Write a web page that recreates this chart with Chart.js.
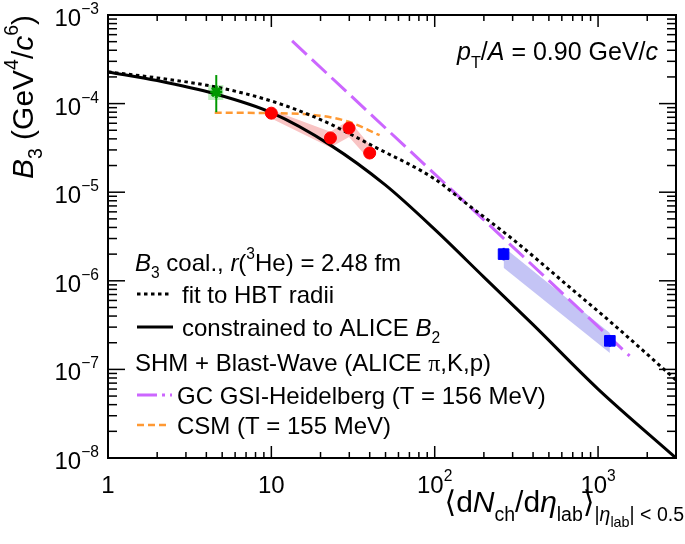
<!DOCTYPE html>
<html>
<head>
<meta charset="utf-8">
<script src="https://cdn.jsdelivr.net/npm/chart.js@4.4.0/dist/chart.umd.min.js"></script>
<style>body{margin:0;background:#fff}canvas{display:block}</style>
</head>
<body>
<canvas id="myChart" width="685" height="544"></canvas>
<script>
"use strict";
// coalescence curves
const solidX = [1, 2, 4.5, 10, 23, 50, 100, 200, 400, 1000, 3000];
const solidY = [2.28e-4, 1.82e-4, 1.29e-4, 7.9e-5, 3.4e-5, 1.2e-5, 3.8e-6, 1.1e-6, 3.2e-7, 6.0e-8, 1.0e-8];
const dotX = [1, 2, 4.5, 10, 20, 43.5, 100, 150, 300, 700, 1200, 3000];
const dotY = [2.28e-4, 1.95e-4, 1.55e-4, 1.07e-4, 6.6e-5, 3.2e-5, 1.41e-5, 7.9e-6, 2.95e-6, 7.9e-7, 3.4e-7, 7.6e-8];
// SHM curves
const gsiX = [13.4, 1560];
const gsiY = [5.1e-4, 1.42e-7];
const csmX = [4.5, 10, 20, 30, 46];
const csmY = [7.9e-5, 7.8e-5, 7.3e-5, 6.2e-5, 4.4e-5];
// data points
const redX = [10, 23, 29.9, 40];
const redY = [7.8e-5, 4.1e-5, 5.3e-5, 2.77e-5];
const redLo = [6.9e-5, 3.6e-5, 4.7e-5, 2.45e-5];
const redHi = [8.8e-5, 4.7e-5, 6.0e-5, 3.15e-5];
const redSysLo = [6.8e-5, 3.2e-5, 4.2e-5, 2.3e-5];
const redSysHi = [8.5e-5, 4.8e-5, 6.5e-5, 3.4e-5];
const blueX = [264, 1181];
const blueY = [2.0e-6, 2.1e-7];
const blueLo = [1.7e-6, 1.8e-7];
const blueHi = [2.35e-6, 2.45e-7];
const blueSysLo = [1.40e-6, 1.53e-7];
const blueSysHi = [2.41e-6, 2.58e-7];
const greenX = [4.6];
const greenY = [1.35e-4];
const greenLo = [8.0e-5];
const greenHi = [2.1e-4];
const greenSysX = [4.1, 5.1];
const greenSysLo = [1.1e-4, 1.1e-4];
const greenSysHi = [1.62e-4, 1.62e-4];
// axes
const xTickVals = [1, 10, 100, 1000];
const xTickText = ["1", "10", "10^2", "10^3"];
const yTickVals = [1e-8, 1e-7, 1e-6, 1e-5, 1e-4, 1e-3];
const yTickText = ["10^-8", "10^-7", "10^-6", "10^-5", "10^-4", "10^-3"];

const FONT = '"Liberation Sans", "DejaVu Sans", sans-serif';
const LEVEL = {"0": [1, 0], "1": [0.65, -0.5], "-1": [0.65, 0.3], "-2": [0.48, 0.5]};

function pts(xs, ys) {
    return xs.map((x, i) => ({x: x, y: ys[i]}));
}

function segFont(size, seg) {
    return (seg.i ? "italic " : "") + size + "px " + (seg.f || FONT);
}

function richWidth(ctx, segs, size) {
    let w = 0;
    for (const s of segs) {
        ctx.font = segFont(size * LEVEL[s.l || 0][0], s);
        w += ctx.measureText(s.t).width;
    }
    return w;
}

function drawRich(ctx, x, y, segs, size, align) {
    const w = richWidth(ctx, segs, size);
    let cx = align === "right" ? x - w : align === "center" ? x - w / 2 : x;
    ctx.textAlign = "left";
    ctx.textBaseline = "alphabetic";
    for (const s of segs) {
        const lv = LEVEL[s.l || 0];
        ctx.font = segFont(size * lv[0], s);
        ctx.fillText(s.t, cx, y + lv[1] * size);
        cx += ctx.measureText(s.t).width;
    }
}

function powerSegs(txt) {
    const p = txt.split("^");
    const segs = [{t: p[0]}];
    if (p[1]) segs.push({t: p[1].replace("-", "\u2212"), l: 1});
    return segs;
}

function line(ctx, x1, y1, x2, y2) {
    ctx.beginPath();
    ctx.moveTo(x1, y1);
    ctx.lineTo(x2, y2);
    ctx.stroke();
}

function errorBars(chart, xs, lo, hi, color) {
    const ctx = chart.ctx;
    const sx = chart.scales.x, sy = chart.scales.y;
    ctx.save();
    ctx.strokeStyle = color;
    ctx.lineWidth = 2;
    xs.forEach((x, i) => {
        const px = sx.getPixelForValue(x);
        line(ctx, px, sy.getPixelForValue(lo[i]), px, sy.getPixelForValue(hi[i]));
    });
    ctx.restore();
}

const framePlugin = {
    id: "frame",
    beforeDraw(chart) {
        const ctx = chart.ctx;
        ctx.save();
        ctx.fillStyle = "#fff";
        ctx.fillRect(0, 0, chart.width, chart.height);
        ctx.restore();
    },
    afterDatasetsDraw(chart) {
        errorBars(chart, redX, redLo, redHi, "#ff0000");
        errorBars(chart, blueX, blueLo, blueHi, "#0000ff");
        errorBars(chart, greenX, greenLo, greenHi, "#009900");
    },
    afterDraw(chart) {
        const ctx = chart.ctx;
        const a = chart.chartArea;
        const sx = chart.scales.x, sy = chart.scales.y;
        ctx.save();
        ctx.strokeStyle = "#000";
        ctx.fillStyle = "#000";
        ctx.lineWidth = 1.5;
        // x ticks, bottom and top
        for (let e = 0; e <= 3; e++) {
            for (let k = 1; k <= 9; k++) {
                const v = k * Math.pow(10, e);
                if (v > sx.max) continue;
                const px = sx.getPixelForValue(v);
                const len = k === 1 ? 12 : 6;
                line(ctx, px, a.bottom, px, a.bottom - len);
                line(ctx, px, a.top, px, a.top + len);
            }
        }
        // y ticks, left and right
        for (let e = -8; e <= -3; e++) {
            for (let k = 1; k <= 9; k++) {
                const v = k * Math.pow(10, e);
                if (v > sy.max * 1.0001) continue;
                const py = sy.getPixelForValue(v);
                const len = k === 1 ? 17 : 9;
                line(ctx, a.left, py, a.left + len, py);
                line(ctx, a.right, py, a.right - len, py);
            }
        }
        ctx.lineWidth = 2;
        ctx.strokeRect(a.left, a.top, a.right - a.left, a.bottom - a.top);

        // tick labels
        xTickVals.forEach((v, i) => {
            drawRich(ctx, sx.getPixelForValue(v), 493, powerSegs(xTickText[i]), 24, "center");
        });
        yTickVals.forEach((v, i) => {
            drawRich(ctx, 99, sy.getPixelForValue(v) + 11, powerSegs(yTickText[i]), 24, "right");
        });

        // axis titles
        drawRich(ctx, 684, 512, [
            {t: "\u27e8d"}, {t: "N", i: true}, {t: "ch", l: -1}, {t: "/d"},
            {t: "\u03b7", i: true}, {t: "lab", l: -1}, {t: "\u27e9"},
            {t: "|", l: -1}, {t: "\u03b7", i: true, l: -1}, {t: "lab", l: -2}, {t: "| < 0.5", l: -1}
        ], 30, "right");
        ctx.save();
        ctx.translate(33, 97);
        ctx.rotate(-Math.PI / 2);
        drawRich(ctx, 0, 0, [
            {t: "B", i: true}, {t: "3", l: -1}, {t: " (GeV"}, {t: "4", l: 1},
            {t: "/"}, {t: "c", i: true}, {t: "6", l: 1}, {t: ")"}
        ], 30, "center");
        ctx.restore();

        // annotation
        drawRich(ctx, 658, 60, [
            {t: "p", i: true}, {t: "T", l: -1}, {t: "/"}, {t: "A", i: true},
            {t: " = 0.90 GeV/"}, {t: "c", i: true}
        ], 25, "right");

        // legend
        drawRich(ctx, 135, 271, [
            {t: "B", i: true}, {t: "3", l: -1}, {t: " coal., "}, {t: "r", i: true},
            {t: "("}, {t: "3", l: 1}, {t: "He) = 2.48 fm"}
        ], 24, "left");
        ctx.lineWidth = 3;
        ctx.setLineDash([3.5, 3.5]);
        line(ctx, 137, 294, 170, 294);
        ctx.setLineDash([]);
        line(ctx, 137, 327, 173, 327);
        drawRich(ctx, 182, 303, [{t: "fit to HBT radii"}], 24, "left");
        drawRich(ctx, 182, 336, [
            {t: "constrained to ALICE "}, {t: "B", i: true}, {t: "2", l: -1}
        ], 24, "left");
        drawRich(ctx, 135, 371, [
            {t: "SHM + Blast-Wave (ALICE "}, {t: "\u03c0", f: '"Liberation Serif", serif'}, {t: ",K,p)"}
        ], 24, "left");
        ctx.strokeStyle = "#cc66ff";
        ctx.lineWidth = 3;
        ctx.setLineDash([20, 5, 3, 5]);
        line(ctx, 137, 395, 172, 395);
        ctx.strokeStyle = "#ff9933";
        ctx.lineWidth = 2.5;
        ctx.setLineDash([7, 4]);
        line(ctx, 137, 425, 170, 425);
        ctx.setLineDash([]);
        ctx.fillStyle = "#000";
        drawRich(ctx, 177, 404, [{t: "GC GSI-Heidelberg (T = 156 MeV)"}], 24, "left");
        drawRich(ctx, 177, 434, [{t: "CSM (T = 155 MeV)"}], 24, "left");
        ctx.restore();
    }
};

const ctx = document.getElementById("myChart");
const myChart = new Chart(ctx, {
    type: "scatter",
    data: {
        datasets: [
            {data: pts(redX, redY), pointStyle: "circle", pointRadius: 6, backgroundColor: "#ff0000", borderColor: "#ff0000"},
            {data: pts(blueX, blueY), pointStyle: "rect", pointRadius: 7.5, backgroundColor: "#0000ff", borderColor: "#0000ff"},
            {data: pts(greenX, greenY), pointStyle: "star", pointRadius: 6, borderWidth: 3, backgroundColor: "#009900", borderColor: "#009900"},
            {data: pts(solidX, solidY), showLine: true, pointRadius: 0, borderColor: "#000", borderWidth: 3, cubicInterpolationMode: "monotone"},
            {data: pts(dotX, dotY), showLine: true, pointRadius: 0, borderColor: "#000", borderWidth: 3, borderDash: [3.5, 3.5], cubicInterpolationMode: "monotone"},
            {data: pts(gsiX, gsiY), showLine: true, pointRadius: 0, borderColor: "#cc66ff", borderWidth: 3, borderDash: [20, 7]},
            {data: pts(csmX, csmY), showLine: true, pointRadius: 0, borderColor: "#ff9933", borderWidth: 2.5, borderDash: [7, 4], cubicInterpolationMode: "monotone"},
            {data: pts(redX, redSysHi), showLine: true, pointRadius: 0, borderWidth: 0, borderColor: "rgba(0,0,0,0)", backgroundColor: "#f9c4c4", fill: "+1"},
            {data: pts(redX, redSysLo), showLine: true, pointRadius: 0, borderWidth: 0, borderColor: "rgba(0,0,0,0)"},
            {data: pts(blueX, blueSysHi), showLine: true, pointRadius: 0, borderWidth: 0, borderColor: "rgba(0,0,0,0)", backgroundColor: "#c4c4f5", fill: "+1"},
            {data: pts(blueX, blueSysLo), showLine: true, pointRadius: 0, borderWidth: 0, borderColor: "rgba(0,0,0,0)"},
            {data: pts(greenSysX, greenSysHi), showLine: true, pointRadius: 0, borderWidth: 0, borderColor: "rgba(0,0,0,0)", backgroundColor: "#bff0bf", fill: "+1"},
            {data: pts(greenSysX, greenSysLo), showLine: true, pointRadius: 0, borderWidth: 0, borderColor: "rgba(0,0,0,0)"}
        ]
    },
    options: {
        responsive: false,
        animation: false,
        devicePixelRatio: 1,
        layout: {padding: {left: 108, right: 1, top: 15, bottom: 86}},
        plugins: {legend: {display: false}, tooltip: {enabled: false}},
        scales: {
            x: {type: "logarithmic", min: 1, max: 3000, display: false},
            y: {type: "logarithmic", min: 1e-8, max: 1e-3, display: false}
        }
    },
    plugins: [framePlugin]
});
</script>
</body>
</html>
